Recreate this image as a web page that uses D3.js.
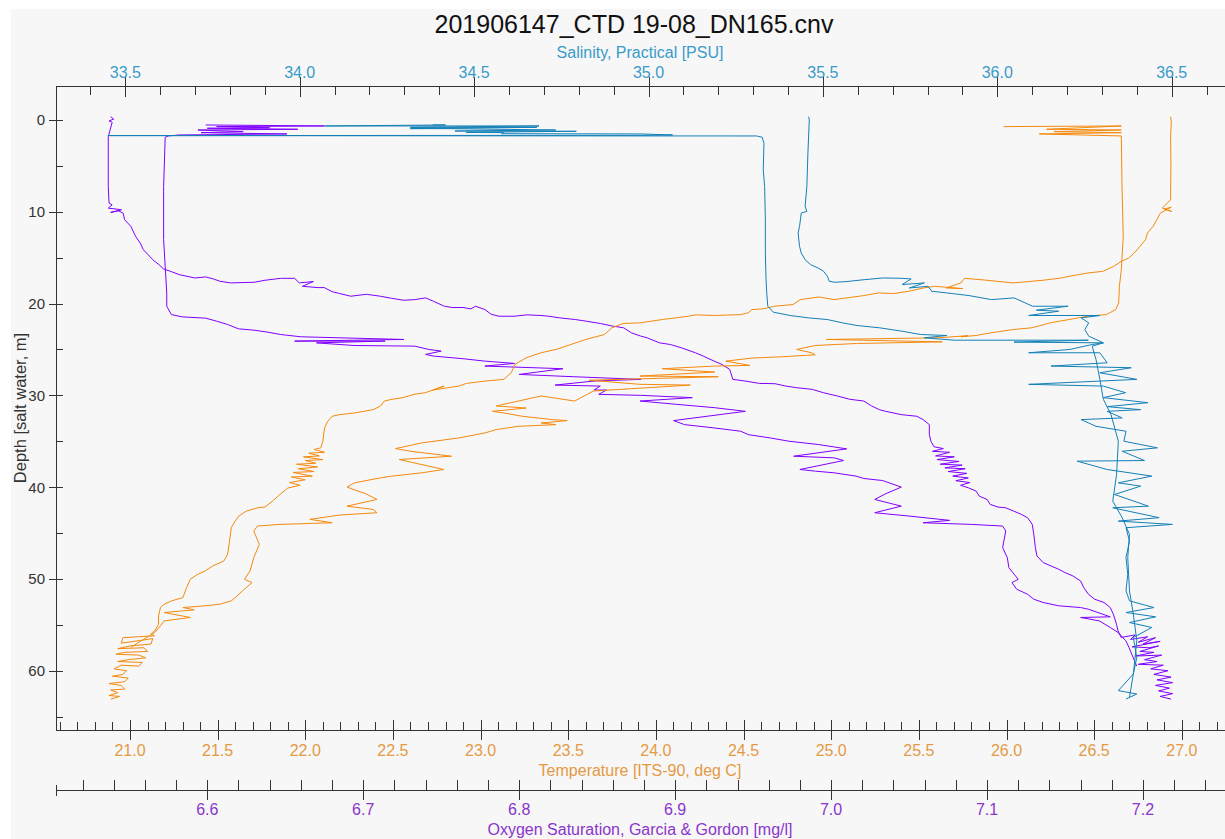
<!DOCTYPE html>
<html>
<head>
<meta charset="utf-8">
<script src="https://cdn.jsdelivr.net/npm/d3@7/dist/d3.min.js"></script>
<style>
  html, body { margin: 0; padding: 0; background: #fff; }
  svg { display: block; }
  text { font-family: "Liberation Sans", Arial, sans-serif; }
</style>
</head>
<body>
<div id="chart"></div>
<script>
// CTD profile: depth vs salinity / temperature / oxygen, two passes each.
// Each trace is [value, depth] pairs.

const titleText = "201906147_CTD 19-08_DN165.cnv";

const salinityTicks = [33.5, 34.0, 34.5, 35.0, 35.5, 36.0, 36.5];
const temperatureTicks = [21.0, 21.5, 22.0, 22.5, 23.0, 23.5, 24.0, 24.5, 25.0, 25.5, 26.0, 26.5, 27.0];
const oxygenTicks = [6.6, 6.7, 6.8, 6.9, 7.0, 7.1, 7.2];
const depthTicks = [0, 10, 20, 30, 40, 50, 60];

// oxygen, shallow-break pass
const oxygenA = [[6.538,-0.36],[6.540,-0.1],[6.537,0.1],[6.539,0.25],[6.5365,1.81],[6.5365,7.25],[6.537,9.06],[6.539,9.24],[6.5365,9.6],[6.545,9.78],[6.538,10.07],[6.543,9.9],[6.546,10.14],[6.547,10.87],[6.551,11.59],[6.554,12.68],[6.557,13.41],[6.559,14.13],[6.562,14.67],[6.565,15.22],[6.569,15.76],[6.572,16.23],[6.577,16.52],[6.582,16.85],[6.587,17.03],[6.592,17.21],[6.599,17.10],[6.604,17.32],[6.608,17.57],[6.615,17.75],[6.630,17.68],[6.637,17.46],[6.647,17.25],[6.656,17.25],[6.659,17.75],[6.668,17.6],[6.661,18.12],[6.671,18.26],[6.675,18.26],[6.680,18.70],[6.685,18.91],[6.692,19.20],[6.702,18.99],[6.711,19.20],[6.718,19.42],[6.726,19.64],[6.733,19.57],[6.740,19.38],[6.745,19.75],[6.752,20.29],[6.757,20.43],[6.764,20.43],[6.769,20.58],[6.772,20.29],[6.778,20.65],[6.782,21.16],[6.787,21.38],[6.797,21.38],[6.805,21.23],[6.814,21.30],[6.819,21.38],[6.826,21.56],[6.836,21.74],[6.843,21.92],[6.852,22.17],[6.860,22.46],[6.867,22.64],[6.872,23.19],[6.878,23.55],[6.882,23.73],[6.890,24.28],[6.897,24.46],[6.904,24.82],[6.913,25.36],[6.918,25.72],[6.925,26.27],[6.930,26.63],[6.935,27.17],[6.937,28.26],[6.945,28.44],[6.954,28.70],[6.964,28.73],[6.971,28.99],[6.978,29.17],[6.988,29.35],[6.995,29.71],[7.004,30.07],[7.012,30.43],[7.021,30.62],[7.026,31.16],[7.031,31.56],[7.035,31.74],[7.045,32.10],[7.055,32.28],[7.059,32.64],[7.063,33.19],[7.063,34.28],[7.064,35.0],[7.066,35.6],[7.072,35.8],[7.065,36.1],[7.076,36.2],[7.067,36.6],[7.079,36.7],[7.068,37.0],[7.082,37.2],[7.070,37.5],[7.084,37.6],[7.073,37.9],[7.086,38.0],[7.075,38.3],[7.087,38.5],[7.078,38.8],[7.088,39.0],[7.080,39.3],[7.089,39.5],[7.083,39.8],[7.088,40.07],[7.093,40.43],[7.095,40.98],[7.100,41.34],[7.102,41.88],[7.107,42.17],[7.112,42.25],[7.117,42.61],[7.122,42.97],[7.126,43.33],[7.129,44.06],[7.130,45.14],[7.131,46.59],[7.132,47.50],[7.136,48.22],[7.141,48.59],[7.146,48.95],[7.150,49.31],[7.155,49.67],[7.160,50.22],[7.162,50.94],[7.165,51.67],[7.169,52.21],[7.175,52.57],[7.179,53.12],[7.181,53.84],[7.183,54.93],[7.184,55.65],[7.186,56.38],[7.195,56.1],[7.192,56.6],[7.203,56.3],[7.197,56.9],[7.208,56.4],[7.200,57.1],[7.211,56.8],[7.193,57.4],[7.204,57.5],[7.210,57.3],[7.198,57.9],[7.207,58.0],[7.195,58.4],[7.212,58.3],[7.201,58.8],[7.209,59.0],[7.197,59.3],[7.213,59.4],[7.205,59.8],[7.216,60.0],[7.207,60.4],[7.218,60.7],[7.209,61.0],[7.219,61.3],[7.208,61.6],[7.217,61.9],[7.210,62.2],[7.219,62.5],[7.211,62.8],[7.218,63.1]];

// oxygen, deep-break pass
const oxygenB = [[6.599,0.54],[6.675,0.65],[6.606,0.72],[6.640,0.85],[6.600,0.9],[6.658,1.01],[6.594,1.09],[6.623,1.27],[6.596,1.38],[6.651,1.52],[6.582,1.63],[6.575,1.74],[6.573,1.88],[6.572,7.25],[6.572,13.04],[6.573,15.94],[6.574,18.84],[6.574,20.29],[6.577,21.20],[6.584,21.45],[6.599,21.59],[6.606,21.92],[6.613,22.28],[6.620,22.75],[6.630,22.90],[6.639,23.12],[6.647,23.37],[6.660,23.62],[6.726,23.91],[6.656,24.09],[6.714,24.09],[6.670,24.28],[6.694,24.57],[6.733,24.64],[6.742,25.0],[6.750,25.18],[6.740,25.54],[6.745,25.72],[6.764,26.01],[6.778,26.27],[6.797,26.52],[6.778,26.81],[6.828,27.10],[6.800,27.72],[6.835,27.97],[6.878,28.26],[6.848,28.44],[6.823,28.88],[6.852,28.99],[6.848,29.42],[6.856,29.42],[6.851,29.89],[6.878,30.0],[6.911,30.25],[6.8775,30.62],[6.901,30.98],[6.925,31.34],[6.945,31.74],[6.899,32.75],[6.906,33.19],[6.925,33.55],[6.942,33.91],[6.947,34.28],[6.961,34.64],[6.973,35.0],[6.992,35.36],[7.010,35.83],[6.976,36.63],[7.002,36.81],[7.008,37.10],[6.980,38.08],[6.990,38.26],[7.002,38.44],[7.016,38.80],[7.021,39.06],[7.033,39.28],[7.045,40.0],[7.035,40.72],[7.028,41.34],[7.045,42.07],[7.028,42.79],[7.050,43.15],[7.076,43.62],[7.059,43.88],[7.090,44.06],[7.110,44.24],[7.112,44.78],[7.110,46.59],[7.113,47.68],[7.114,48.77],[7.120,50.04],[7.116,50.40],[7.119,51.12],[7.126,51.67],[7.130,52.21],[7.136,52.57],[7.146,52.93],[7.160,53.12],[7.165,53.30],[7.179,54.13],[7.160,54.20],[7.172,54.57],[7.179,55.29],[7.184,55.83],[7.189,56.74],[7.191,57.46],[7.196,59.5]];

// temperature, shallow-break pass
const temperatureA = [[26.936,-0.36],[26.94,0.2],[26.936,1.81],[26.938,5.0],[26.936,8.70],[26.889,9.60],[26.942,9.96],[26.900,9.7],[26.940,9.5],[26.878,10.14],[26.857,10.87],[26.836,11.59],[26.804,12.32],[26.793,13.04],[26.761,13.77],[26.729,14.49],[26.697,15.04],[26.655,15.40],[26.612,15.94],[26.549,16.49],[26.463,16.67],[26.357,17.03],[26.314,17.21],[26.208,17.46],[26.038,17.75],[25.889,17.46],[25.761,17.25],[25.740,17.75],[25.655,18.30],[25.750,18.37],[25.591,18.12],[25.527,18.30],[25.442,18.66],[25.356,18.91],[25.271,18.84],[25.186,19.13],[25.016,19.57],[24.931,19.28],[24.824,19.57],[24.782,20.11],[24.675,20.29],[24.611,20.58],[24.548,20.65],[24.526,21.01],[24.484,21.20],[24.335,21.30],[24.228,21.23],[24.186,21.38],[24.037,21.74],[23.909,22.10],[23.813,22.17],[23.749,22.64],[23.707,23.37],[23.600,23.91],[23.515,24.46],[23.430,25.0],[23.345,25.36],[23.260,25.91],[23.196,26.63],[23.175,27.54],[23.132,28.26],[23.026,28.44],[22.919,28.70],[22.877,28.99],[22.813,29.17],[22.728,29.42],[22.792,28.99],[22.685,29.71],[22.621,29.89],[22.558,30.25],[22.494,30.43],[22.451,30.62],[22.430,31.16],[22.387,31.56],[22.281,31.92],[22.196,32.10],[22.153,32.28],[22.128,32.83],[22.110,33.55],[22.100,35.0],[22.089,35.72],[22.05,35.9],[22.11,36.2],[22.02,36.3],[22.08,36.6],[21.99,36.7],[22.10,37.0],[22.00,37.1],[22.06,37.4],[21.95,37.5],[22.07,37.8],[21.96,38.0],[22.05,38.3],[21.93,38.4],[22.04,38.8],[21.92,38.9],[22.00,39.2],[21.91,39.5],[21.97,39.8],[21.90,40.1],[21.855,40.80],[21.813,41.52],[21.770,42.17],[21.727,42.25],[21.664,42.61],[21.621,43.15],[21.600,43.70],[21.578,44.42],[21.568,45.87],[21.557,47.32],[21.536,48.04],[21.472,48.59],[21.429,49.13],[21.387,49.49],[21.344,50.04],[21.323,50.94],[21.302,52.03],[21.238,52.39],[21.195,52.75],[21.174,53.12],[21.163,54.02],[21.163,54.93],[21.142,55.65],[21.12,56.0],[21.14,56.2],[21.05,56.3],[20.96,56.4],[20.95,57.0],[21.06,56.7],[21.13,56.5],[21.12,57.1],[21.00,57.3],[20.93,57.6],[21.08,57.5],[21.10,57.9],[20.97,58.0],[20.92,58.2],[21.05,58.3],[21.09,58.6],[20.99,58.8],[20.93,59.0],[21.07,59.1],[21.05,59.5],[20.95,59.4],[20.91,59.8],[20.98,60.0],[20.96,60.4],[20.90,60.6],[20.99,60.8],[20.97,61.2],[20.88,61.4],[20.95,61.6],[20.97,62.0],[20.89,62.1],[20.93,62.4],[20.88,62.7],[20.94,62.8],[20.89,63.1]];

// temperature, deep-break pass
const temperatureB = [[25.984,0.72],[26.655,0.65],[26.229,1.01],[26.655,1.09],[26.272,1.27],[26.655,1.38],[26.187,1.52],[26.655,1.74],[26.659,7.25],[26.666,12.68],[26.655,16.30],[26.644,18.12],[26.640,19.93],[26.623,20.65],[26.570,21.20],[26.463,21.38],[26.357,21.74],[26.250,22.10],[26.144,22.64],[26.038,22.83],[25.910,23.19],[25.825,23.48],[25.740,23.62],[25.78,23.5],[25.612,23.73],[24.973,23.91],[25.633,24.17],[25.144,24.35],[24.909,24.57],[24.803,25.0],[24.888,25.36],[24.909,25.58],[24.718,25.80],[24.548,25.94],[24.399,26.27],[24.537,26.74],[24.335,26.81],[24.037,27.10],[24.335,27.46],[23.909,27.90],[24.356,27.97],[23.62,28.35],[23.909,28.80],[24.196,28.88],[23.856,29.28],[23.643,29.53],[23.537,30.62],[23.345,30.07],[23.089,31.16],[23.260,31.38],[23.068,31.74],[23.132,31.92],[23.238,32.28],[23.409,32.64],[23.494,32.75],[23.345,33.01],[23.430,33.19],[23.217,33.37],[23.089,33.73],[23.026,34.09],[22.877,34.64],[22.664,35.18],[22.515,35.80],[22.600,36.09],[22.834,36.63],[22.536,36.99],[22.621,37.36],[22.791,38.08],[22.664,38.44],[22.494,38.80],[22.409,39.06],[22.281,39.53],[22.238,40.0],[22.345,40.72],[22.409,41.34],[22.238,42.07],[22.387,42.43],[22.409,42.79],[22.196,43.04],[22.026,43.51],[22.153,43.88],[21.855,44.06],[21.727,44.24],[21.706,44.78],[21.738,46.23],[21.706,47.68],[21.685,49.13],[21.653,50.04],[21.696,50.40],[21.642,51.30],[21.600,52.03],[21.578,52.39],[21.514,52.75],[21.429,52.93],[21.302,53.12],[21.366,53.37],[21.195,53.66],[21.344,54.20],[21.195,54.57],[21.174,55.11],[21.142,55.83],[21.004,57.46]];

// salinity, shallow-break pass
const salinityA = [[35.459,-0.36],[35.461,0.0],[35.457,3.62],[35.454,7.25],[35.449,9.42],[35.454,9.96],[35.438,10.14],[35.433,11.59],[35.429,12.32],[35.433,13.77],[35.438,14.49],[35.449,15.22],[35.465,15.76],[35.486,16.12],[35.502,16.49],[35.513,17.03],[35.518,17.57],[35.534,17.68],[35.566,17.61],[35.620,17.39],[35.673,17.21],[35.727,17.25],[35.753,17.32],[35.727,17.93],[35.791,17.75],[35.748,18.30],[35.802,18.12],[35.812,18.66],[35.855,18.84],[35.919,19.13],[35.983,19.57],[36.048,19.38],[36.080,19.93],[36.101,20.29],[36.203,20.29],[36.112,20.72],[36.176,20.83],[36.090,21.30],[36.294,21.30],[36.240,21.56],[36.262,22.10],[36.251,22.83],[36.262,23.55],[36.304,24.28],[36.272,24.46],[36.208,25.0],[36.090,25.36],[36.294,25.36],[36.315,26.45],[36.154,26.81],[36.384,26.99],[36.294,27.54],[36.400,28.26],[36.090,28.80],[36.304,28.99],[36.368,29.71],[36.304,30.25],[36.432,30.80],[36.315,31.23],[36.411,31.56],[36.315,31.74],[36.358,32.46],[36.240,32.64],[36.283,33.37],[36.369,33.91],[36.363,35.0],[36.459,35.72],[36.358,36.09],[36.422,37.10],[36.229,37.17],[36.315,38.08],[36.443,38.80],[36.347,39.53],[36.411,39.89],[36.336,40.80],[36.433,42.07],[36.331,42.25],[36.464,43.33],[36.347,43.70],[36.502,44.06],[36.369,44.42],[36.379,45.87],[36.369,47.68],[36.374,49.49],[36.369,51.30],[36.379,52.39],[36.449,53.12],[36.369,53.66],[36.454,54.13],[36.379,54.75],[36.443,55.29],[36.390,56.38],[36.400,58.55],[36.390,60.36],[36.347,62.17],[36.400,62.54],[36.369,63.08]];

// salinity, deep-break pass
const salinityB = [[34.381,0.54],[34.418,0.54],[34.071,0.65],[34.686,0.65],[34.317,0.80],[34.680,0.80],[34.317,0.94],[34.424,0.94],[34.734,1.09],[34.445,1.20],[34.793,1.23],[34.477,1.34],[34.584,1.38],[34.579,1.49],[34.978,1.52],[35.069,1.63],[34.978,1.67],[33.450,1.70],[35.245,1.74],[35.310,1.74],[35.326,1.88],[35.331,2.54],[35.329,5.43],[35.333,7.25],[35.335,10.87],[35.335,14.49],[35.337,17.39],[35.339,18.84],[35.342,20.29],[35.358,20.94],[35.406,21.30],[35.459,21.56],[35.513,21.74],[35.556,22.10],[35.598,22.39],[35.662,22.64],[35.727,23.01],[35.780,23.37],[35.855,23.48],[35.791,23.73],[35.876,23.99],[36.261,23.99],[36.048,24.20],[36.304,24.28],[36.272,24.64],[36.283,26.09],[36.294,28.26],[36.304,30.43],[36.326,32.10],[36.347,35.0],[36.342,38.62],[36.331,41.52],[36.358,43.33],[36.379,45.14],[36.374,47.68],[36.379,51.30],[36.390,53.84],[36.400,56.74],[36.390,60.36],[36.379,62.90]];

const W = 1225, H = 839;
const L = 56, R = 1225, T = 86, B = 730;
const oxyAxisY = 790;

const salColor = "#1380b8", salText = "#3a9bc9";
const tempColor = "#f5890c", tempText = "#e49a45";
const oxyColor = "#8000ff", oxyText = "#8a35cc";
const axisColor = "#333";

const svg = d3.select("#chart").append("svg")
  .attr("width", W).attr("height", H);

// grey panel (white margin on top and left like the original window)
svg.append("rect").attr("x", 11).attr("y", 9)
  .attr("width", W - 11).attr("height", H - 9).attr("fill", "#f7f7f7");

const y = d3.scaleLinear().domain([-3.704, 66.46]).range([T, B]);
const xSal = d3.scaleLinear().domain([33.3013, 36.6528]).range([L, R]);
const xTemp = d3.scaleLinear().domain([20.578, 27.2464]).range([L, R]);
const xOxy = d3.scaleLinear().domain([6.50298, 7.25259]).range([L, R]);

const fmt = d3.format(".1f");

// ---- traces ----
svg.append("defs").append("clipPath").attr("id", "plot-clip")
  .append("rect").attr("x", L).attr("y", T).attr("width", R - L).attr("height", B - T);

const traces = svg.append("g").attr("clip-path", "url(#plot-clip)");

function drawTrace(data, xs, color) {
  const line = d3.line().x(d => xs(d[0])).y(d => y(d[1]));
  traces.append("path").datum(data)
    .attr("d", line)
    .attr("fill", "none")
    .attr("stroke", color)
    .attr("stroke-width", 1)
    .attr("stroke-linejoin", "round");
}
drawTrace(oxygenA, xOxy, oxyColor);
drawTrace(oxygenB, xOxy, oxyColor);
drawTrace(temperatureA, xTemp, tempColor);
drawTrace(temperatureB, xTemp, tempColor);
drawTrace(salinityA, xSal, salColor);
drawTrace(salinityB, xSal, salColor);

// ---- axes ----
const ax = svg.append("g").attr("stroke", axisColor).attr("stroke-width", 1);
function hLine(x1, x2, yy) { ax.append("line").attr("x1", x1).attr("x2", x2).attr("y1", yy + 0.5).attr("y2", yy + 0.5); }
function vLine(xx, y1, y2) { ax.append("line").attr("x1", Math.round(xx) + 0.5).attr("x2", Math.round(xx) + 0.5).attr("y1", y1).attr("y2", y2); }

// left depth axis
vLine(L, T, B + 1);
d3.range(0, 70, 5).forEach(v => {
  const yy = Math.round(y(v)) + 0.5;
  const major = v % 10 === 0;
  ax.append("line").attr("x1", major ? L - 7 : L).attr("x2", L + 7).attr("y1", yy).attr("y2", yy);
});
svg.append("g").selectAll("text").data(depthTicks).join("text")
  .attr("x", L - 11).attr("y", d => y(d) + 5.5)
  .attr("text-anchor", "end").attr("fill", "#333").style("font-size", "15px")
  .text(d => d);
svg.append("text")
  .attr("transform", `translate(26,${(T + B) / 2}) rotate(-90)`)
  .attr("text-anchor", "middle").attr("fill", "#333").style("font-size", "16.5px")
  .text("Depth [salt water, m]");

// top salinity axis
hLine(L, R, T);
d3.range(334, 367).forEach(v => {
  const xx = xSal(v / 10);
  if (v % 5 === 0) vLine(xx, T - 9, T + 11);
  else vLine(xx, T, T + 9);
});
svg.append("g").selectAll("text").data(salinityTicks).join("text")
  .attr("x", d => xSal(d)).attr("y", 78)
  .attr("text-anchor", "middle").attr("fill", salText).style("font-size", "16px")
  .text(d => fmt(d));
svg.append("text").attr("x", 640).attr("y", 58)
  .attr("text-anchor", "middle").attr("fill", salText).style("font-size", "16px")
  .text("Salinity, Practical [PSU]");

// bottom temperature axis
hLine(L, R, B);
d3.range(206, 273).forEach(v => {
  const xx = xTemp(v / 10);
  if (v % 5 === 0) vLine(xx, B - 10, B + 10);
  else vLine(xx, B - 8, B);
});
svg.append("g").selectAll("text").data(temperatureTicks).join("text")
  .attr("x", d => xTemp(d)).attr("y", 756)
  .attr("text-anchor", "middle").attr("fill", tempText).style("font-size", "16px")
  .text(d => fmt(d));
svg.append("text").attr("x", 640).attr("y", 776)
  .attr("text-anchor", "middle").attr("fill", tempText).style("font-size", "16px")
  .text("Temperature [ITS-90, deg C]");

// oxygen axis
hLine(L, R, oxyAxisY);
vLine(L, oxyAxisY - 5, oxyAxisY + 6);
d3.range(326, 363).forEach(v => {
  const xx = xOxy(v / 50);
  if (v % 5 === 0) vLine(xx, oxyAxisY - 10, oxyAxisY + 10);
  else vLine(xx, oxyAxisY - 10, oxyAxisY);
});
svg.append("g").selectAll("text").data(oxygenTicks).join("text")
  .attr("x", d => xOxy(d)).attr("y", 815)
  .attr("text-anchor", "middle").attr("fill", oxyText).style("font-size", "16px")
  .text(d => fmt(d));
svg.append("text").attr("x", 640).attr("y", 835)
  .attr("text-anchor", "middle").attr("fill", oxyText).style("font-size", "16px")
  .text("Oxygen Saturation, Garcia & Gordon [mg/l]");

// title
svg.append("text").attr("x", 634).attr("y", 33)
  .attr("text-anchor", "middle").attr("fill", "#111").style("font-size", "25px")
  .text(titleText);
</script>
</body>
</html>
